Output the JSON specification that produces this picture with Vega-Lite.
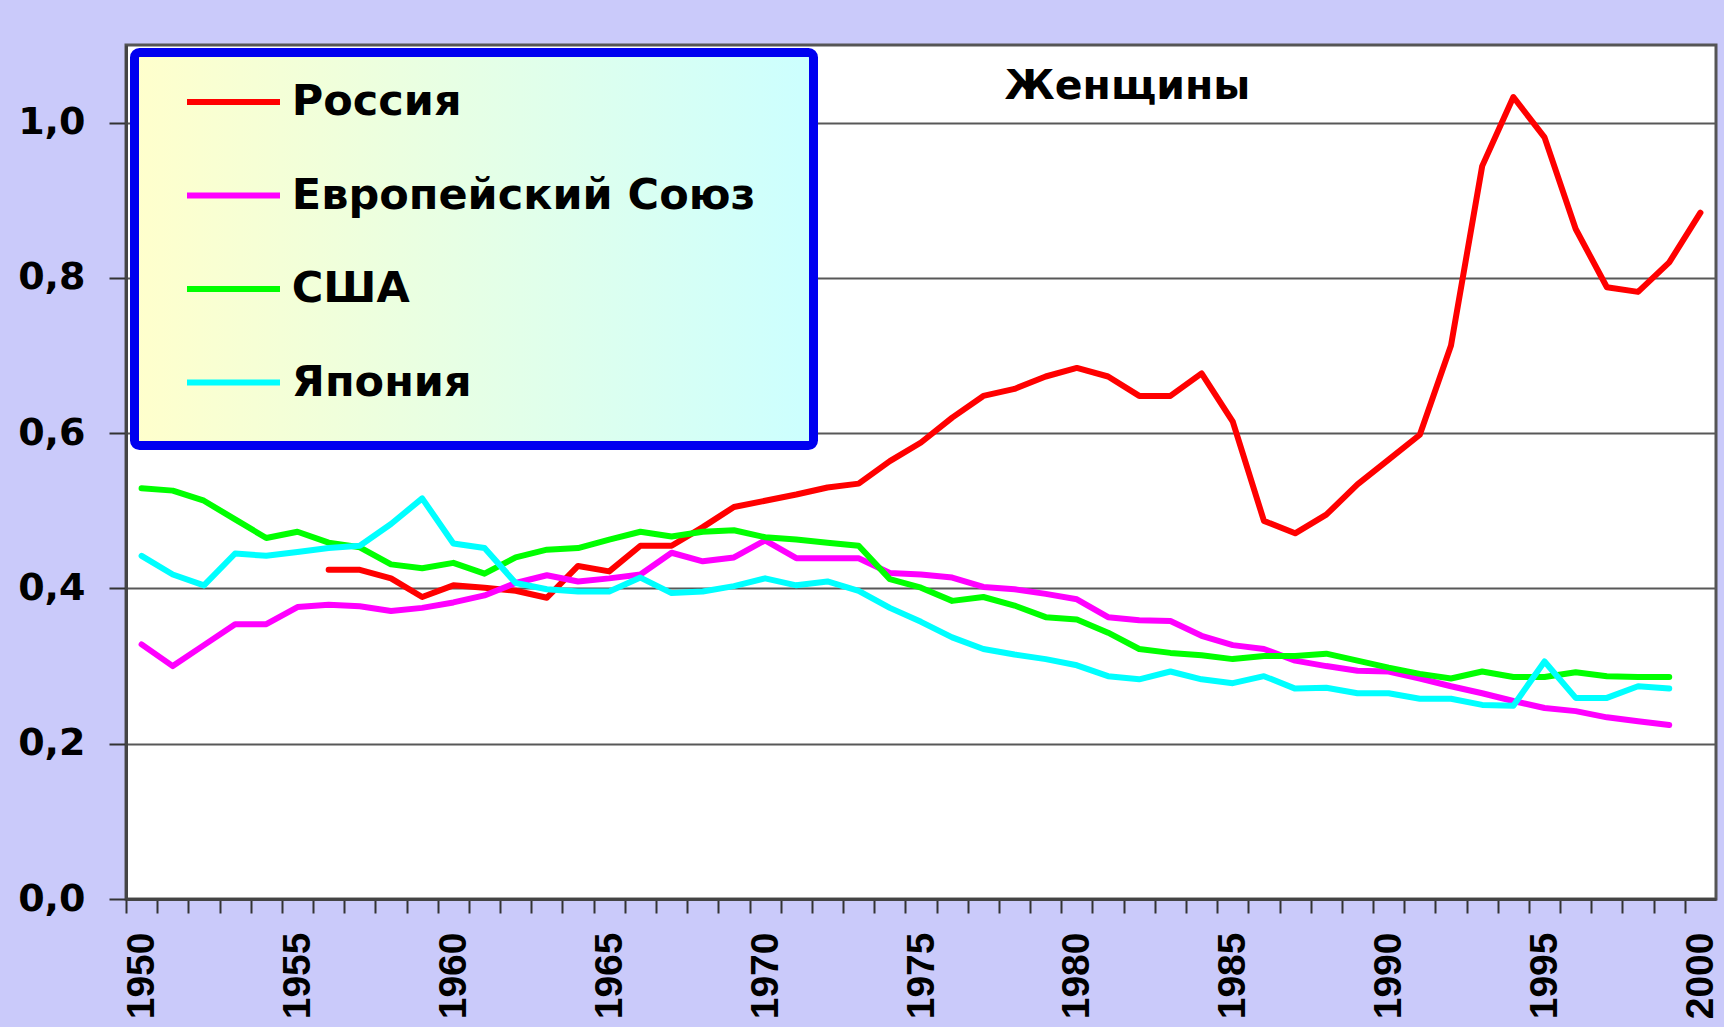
{
  "$schema": "https://vega.github.io/schema/vega-lite/v6.json",
  "width": 1590,
  "height": 854,
  "autosize": {"type": "none"},
  "padding": {"left": 126, "top": 45, "right": 8, "bottom": 128},
  "background": "#CACAFA",
  "title": {"text": "Женщины", "font": "DejaVu Sans", "fontWeight": "bold", "fontSize": 41, "color": "black", "anchor": "middle", "frame": "group", "offset": 0, "baseline": "alphabetic", "dx": 206.5, "dy": 94.5},
  "data": {"values": [
    {"region": "Россия", "year": 1956, "value": 0.424}, {"region": "Россия", "year": 1957, "value": 0.424}, {"region": "Россия", "year": 1958, "value": 0.413}, {"region": "Россия", "year": 1959, "value": 0.389}, {"region": "Россия", "year": 1960, "value": 0.404}, {"region": "Россия", "year": 1961, "value": 0.401}, {"region": "Россия", "year": 1962, "value": 0.397}, {"region": "Россия", "year": 1963, "value": 0.388}, {"region": "Россия", "year": 1964, "value": 0.429}, {"region": "Россия", "year": 1965, "value": 0.422}, {"region": "Россия", "year": 1966, "value": 0.455}, {"region": "Россия", "year": 1967, "value": 0.455}, {"region": "Россия", "year": 1968, "value": 0.479}, {"region": "Россия", "year": 1969, "value": 0.505}, {"region": "Россия", "year": 1970, "value": 0.513}, {"region": "Россия", "year": 1971, "value": 0.521}, {"region": "Россия", "year": 1972, "value": 0.53}, {"region": "Россия", "year": 1973, "value": 0.535}, {"region": "Россия", "year": 1974, "value": 0.564}, {"region": "Россия", "year": 1975, "value": 0.588}, {"region": "Россия", "year": 1976, "value": 0.62}, {"region": "Россия", "year": 1977, "value": 0.648}, {"region": "Россия", "year": 1978, "value": 0.657}, {"region": "Россия", "year": 1979, "value": 0.673}, {"region": "Россия", "year": 1980, "value": 0.684}, {"region": "Россия", "year": 1981, "value": 0.673}, {"region": "Россия", "year": 1982, "value": 0.648}, {"region": "Россия", "year": 1983, "value": 0.648}, {"region": "Россия", "year": 1984, "value": 0.677}, {"region": "Россия", "year": 1985, "value": 0.615}, {"region": "Россия", "year": 1986, "value": 0.487}, {"region": "Россия", "year": 1987, "value": 0.471}, {"region": "Россия", "year": 1988, "value": 0.495}, {"region": "Россия", "year": 1989, "value": 0.534}, {"region": "Россия", "year": 1990, "value": 0.566}, {"region": "Россия", "year": 1991, "value": 0.598}, {"region": "Россия", "year": 1992, "value": 0.713}, {"region": "Россия", "year": 1993, "value": 0.944}, {"region": "Россия", "year": 1994, "value": 1.033}, {"region": "Россия", "year": 1995, "value": 0.981}, {"region": "Россия", "year": 1996, "value": 0.863}, {"region": "Россия", "year": 1997, "value": 0.788}, {"region": "Россия", "year": 1998, "value": 0.782}, {"region": "Россия", "year": 1999, "value": 0.82}, {"region": "Россия", "year": 2000, "value": 0.884},
    {"region": "Европейский Союз", "year": 1950, "value": 0.328}, {"region": "Европейский Союз", "year": 1951, "value": 0.3}, {"region": "Европейский Союз", "year": 1952, "value": 0.327}, {"region": "Европейский Союз", "year": 1953, "value": 0.354}, {"region": "Европейский Союз", "year": 1954, "value": 0.354}, {"region": "Европейский Союз", "year": 1955, "value": 0.376}, {"region": "Европейский Союз", "year": 1956, "value": 0.379}, {"region": "Европейский Союз", "year": 1957, "value": 0.377}, {"region": "Европейский Союз", "year": 1958, "value": 0.371}, {"region": "Европейский Союз", "year": 1959, "value": 0.375}, {"region": "Европейский Союз", "year": 1960, "value": 0.382}, {"region": "Европейский Союз", "year": 1961, "value": 0.391}, {"region": "Европейский Союз", "year": 1962, "value": 0.407}, {"region": "Европейский Союз", "year": 1963, "value": 0.417}, {"region": "Европейский Союз", "year": 1964, "value": 0.409}, {"region": "Европейский Союз", "year": 1965, "value": 0.413}, {"region": "Европейский Союз", "year": 1966, "value": 0.418}, {"region": "Европейский Союз", "year": 1967, "value": 0.446}, {"region": "Европейский Союз", "year": 1968, "value": 0.435}, {"region": "Европейский Союз", "year": 1969, "value": 0.44}, {"region": "Европейский Союз", "year": 1970, "value": 0.462}, {"region": "Европейский Союз", "year": 1971, "value": 0.439}, {"region": "Европейский Союз", "year": 1972, "value": 0.439}, {"region": "Европейский Союз", "year": 1973, "value": 0.439}, {"region": "Европейский Союз", "year": 1974, "value": 0.42}, {"region": "Европейский Союз", "year": 1975, "value": 0.418}, {"region": "Европейский Союз", "year": 1976, "value": 0.414}, {"region": "Европейский Союз", "year": 1977, "value": 0.402}, {"region": "Европейский Союз", "year": 1978, "value": 0.399}, {"region": "Европейский Союз", "year": 1979, "value": 0.393}, {"region": "Европейский Союз", "year": 1980, "value": 0.386}, {"region": "Европейский Союз", "year": 1981, "value": 0.363}, {"region": "Европейский Союз", "year": 1982, "value": 0.359}, {"region": "Европейский Союз", "year": 1983, "value": 0.358}, {"region": "Европейский Союз", "year": 1984, "value": 0.339}, {"region": "Европейский Союз", "year": 1985, "value": 0.327}, {"region": "Европейский Союз", "year": 1986, "value": 0.322}, {"region": "Европейский Союз", "year": 1987, "value": 0.307}, {"region": "Европейский Союз", "year": 1988, "value": 0.3}, {"region": "Европейский Союз", "year": 1989, "value": 0.294}, {"region": "Европейский Союз", "year": 1990, "value": 0.293}, {"region": "Европейский Союз", "year": 1991, "value": 0.284}, {"region": "Европейский Союз", "year": 1992, "value": 0.274}, {"region": "Европейский Союз", "year": 1993, "value": 0.265}, {"region": "Европейский Союз", "year": 1994, "value": 0.255}, {"region": "Европейский Союз", "year": 1995, "value": 0.246}, {"region": "Европейский Союз", "year": 1996, "value": 0.242}, {"region": "Европейский Союз", "year": 1997, "value": 0.234}, {"region": "Европейский Союз", "year": 1998, "value": 0.229}, {"region": "Европейский Союз", "year": 1999, "value": 0.224},
    {"region": "США", "year": 1950, "value": 0.529}, {"region": "США", "year": 1951, "value": 0.526}, {"region": "США", "year": 1952, "value": 0.513}, {"region": "США", "year": 1953, "value": 0.489}, {"region": "США", "year": 1954, "value": 0.465}, {"region": "США", "year": 1955, "value": 0.473}, {"region": "США", "year": 1956, "value": 0.459}, {"region": "США", "year": 1957, "value": 0.453}, {"region": "США", "year": 1958, "value": 0.431}, {"region": "США", "year": 1959, "value": 0.426}, {"region": "США", "year": 1960, "value": 0.433}, {"region": "США", "year": 1961, "value": 0.419}, {"region": "США", "year": 1962, "value": 0.44}, {"region": "США", "year": 1963, "value": 0.45}, {"region": "США", "year": 1964, "value": 0.452}, {"region": "США", "year": 1965, "value": 0.463}, {"region": "США", "year": 1966, "value": 0.473}, {"region": "США", "year": 1967, "value": 0.467}, {"region": "США", "year": 1968, "value": 0.473}, {"region": "США", "year": 1969, "value": 0.475}, {"region": "США", "year": 1970, "value": 0.466}, {"region": "США", "year": 1971, "value": 0.463}, {"region": "США", "year": 1972, "value": 0.459}, {"region": "США", "year": 1973, "value": 0.455}, {"region": "США", "year": 1974, "value": 0.412}, {"region": "США", "year": 1975, "value": 0.401}, {"region": "США", "year": 1976, "value": 0.384}, {"region": "США", "year": 1977, "value": 0.389}, {"region": "США", "year": 1978, "value": 0.378}, {"region": "США", "year": 1979, "value": 0.363}, {"region": "США", "year": 1980, "value": 0.36}, {"region": "США", "year": 1981, "value": 0.343}, {"region": "США", "year": 1982, "value": 0.322}, {"region": "США", "year": 1983, "value": 0.317}, {"region": "США", "year": 1984, "value": 0.314}, {"region": "США", "year": 1985, "value": 0.309}, {"region": "США", "year": 1986, "value": 0.313}, {"region": "США", "year": 1987, "value": 0.313}, {"region": "США", "year": 1988, "value": 0.316}, {"region": "США", "year": 1989, "value": 0.307}, {"region": "США", "year": 1990, "value": 0.298}, {"region": "США", "year": 1991, "value": 0.29}, {"region": "США", "year": 1992, "value": 0.284}, {"region": "США", "year": 1993, "value": 0.293}, {"region": "США", "year": 1994, "value": 0.286}, {"region": "США", "year": 1995, "value": 0.286}, {"region": "США", "year": 1996, "value": 0.292}, {"region": "США", "year": 1997, "value": 0.287}, {"region": "США", "year": 1998, "value": 0.286}, {"region": "США", "year": 1999, "value": 0.286},
    {"region": "Япония", "year": 1950, "value": 0.442}, {"region": "Япония", "year": 1951, "value": 0.418}, {"region": "Япония", "year": 1952, "value": 0.404}, {"region": "Япония", "year": 1953, "value": 0.445}, {"region": "Япония", "year": 1954, "value": 0.442}, {"region": "Япония", "year": 1955, "value": 0.447}, {"region": "Япония", "year": 1956, "value": 0.452}, {"region": "Япония", "year": 1957, "value": 0.455}, {"region": "Япония", "year": 1958, "value": 0.483}, {"region": "Япония", "year": 1959, "value": 0.516}, {"region": "Япония", "year": 1960, "value": 0.458}, {"region": "Япония", "year": 1961, "value": 0.452}, {"region": "Япония", "year": 1962, "value": 0.407}, {"region": "Япония", "year": 1963, "value": 0.399}, {"region": "Япония", "year": 1964, "value": 0.396}, {"region": "Япония", "year": 1965, "value": 0.396}, {"region": "Япония", "year": 1966, "value": 0.414}, {"region": "Япония", "year": 1967, "value": 0.394}, {"region": "Япония", "year": 1968, "value": 0.396}, {"region": "Япония", "year": 1969, "value": 0.403}, {"region": "Япония", "year": 1970, "value": 0.413}, {"region": "Япония", "year": 1971, "value": 0.404}, {"region": "Япония", "year": 1972, "value": 0.409}, {"region": "Япония", "year": 1973, "value": 0.397}, {"region": "Япония", "year": 1974, "value": 0.375}, {"region": "Япония", "year": 1975, "value": 0.357}, {"region": "Япония", "year": 1976, "value": 0.337}, {"region": "Япония", "year": 1977, "value": 0.322}, {"region": "Япония", "year": 1978, "value": 0.315}, {"region": "Япония", "year": 1979, "value": 0.309}, {"region": "Япония", "year": 1980, "value": 0.301}, {"region": "Япония", "year": 1981, "value": 0.287}, {"region": "Япония", "year": 1982, "value": 0.283}, {"region": "Япония", "year": 1983, "value": 0.293}, {"region": "Япония", "year": 1984, "value": 0.283}, {"region": "Япония", "year": 1985, "value": 0.278}, {"region": "Япония", "year": 1986, "value": 0.287}, {"region": "Япония", "year": 1987, "value": 0.271}, {"region": "Япония", "year": 1988, "value": 0.272}, {"region": "Япония", "year": 1989, "value": 0.265}, {"region": "Япония", "year": 1990, "value": 0.265}, {"region": "Япония", "year": 1991, "value": 0.258}, {"region": "Япония", "year": 1992, "value": 0.258}, {"region": "Япония", "year": 1993, "value": 0.25}, {"region": "Япония", "year": 1994, "value": 0.249}, {"region": "Япония", "year": 1995, "value": 0.306}, {"region": "Япония", "year": 1996, "value": 0.259}, {"region": "Япония", "year": 1997, "value": 0.259}, {"region": "Япония", "year": 1998, "value": 0.274}, {"region": "Япония", "year": 1999, "value": 0.271}
  ]},
  "mark": {"type": "line", "strokeWidth": 6, "strokeJoin": "round", "strokeCap": "round"},
  "encoding": {
    "x": {
      "field": "year", "type": "quantitative",
      "scale": {"domain": [1949.5, 2000.5], "nice": false, "zero": false},
      "axis": {
        "title": null,
        "values": [1950,1951,1952,1953,1954,1955,1956,1957,1958,1959,1960,1961,1962,1963,1964,1965,1966,1967,1968,1969,1970,1971,1972,1973,1974,1975,1976,1977,1978,1979,1980,1981,1982,1983,1984,1985,1986,1987,1988,1989,1990,1991,1992,1993,1994,1995,1996,1997,1998,1999,2000,2001],
        "labelExpr": "(datum.value % 5 == 0 && datum.value <= 2000) ? '' + datum.value : ''",
        "tickOffset": -15.588,
        "labelOffset": 15.588,
        "labelAngle": 270,
        "labelFont": "Liberation Sans", "labelFontWeight": "bold", "labelFontSize": 39, "labelColor": "black",
        "labelPadding": 19, "labelFlush": false, "labelOverlap": false, "labelBound": false,
        "tickSize": 14, "tickColor": "#333333", "tickWidth": 2,
        "domainColor": "#444444", "domainWidth": 3,
        "grid": false
      }
    },
    "y": {
      "field": "value", "type": "quantitative",
      "scale": {"domain": [0, 1.1], "nice": false, "zero": true},
      "axis": {
        "title": null,
        "values": [0, 0.2, 0.4, 0.6, 0.8, 1.0],
        "labelExpr": "replace(format(datum.value, '.1f'), '.', ',')",
        "labelFont": "DejaVu Sans", "labelFontWeight": "bold", "labelFontSize": 38, "labelColor": "black",
        "labelPadding": 24, "labelFlush": false, "labelOverlap": false,
        "tickSize": 17, "tickColor": "#333333", "tickWidth": 2,
        "domainColor": "#444444", "domainWidth": 3,
        "grid": true, "gridColor": "#585858", "gridWidth": 2
      }
    },
    "color": {
      "field": "region", "type": "nominal",
      "scale": {"domain": ["Россия", "Европейский Союз", "США", "Япония"], "range": ["#FF0000", "#FF00FF", "#00FF00", "#00FFFF"]},
      "legend": {
        "orient": "none", "legendX": 8.5, "legendY": 7.5,
        "title": "\u200b                                                                                                                                                     \u200b",
        "titleOrient": "bottom", "titleFont": "DejaVu Sans", "titleFontSize": 12, "titlePadding": 2, "titleLimit": 2000,
        "padding": 28,
        "fillColor": {"value": {"gradient": "linear", "x1": 0, "y1": 0, "x2": 1, "y2": 0, "stops": [{"offset": 0, "color": "#FFFFCC"}, {"offset": 1, "color": "#CCFFFF"}]}},
        "strokeColor": "#0000F0",
        "cornerRadius": 5,
        "symbolType": "M-3,0H3", "symbolSize": 961, "symbolStrokeWidth": 6,
        "symbolOffset": 49.5, "labelOffset": 36.8,
        "labelFont": "DejaVu Sans", "labelFontWeight": "bold", "labelFontSize": 43, "labelColor": "black", "labelLimit": 1000,
        "rowPadding": 49.5
      }
    }
  },
  "config": {
    "view": {"fill": "white", "stroke": "#555555", "strokeWidth": 3},
    "legend": {"strokeWidth": 9}
  }
}
